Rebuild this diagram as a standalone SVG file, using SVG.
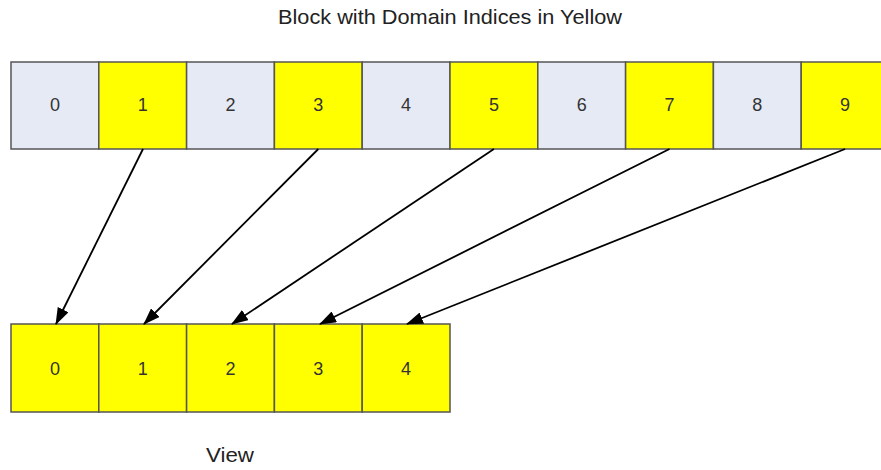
<svg xmlns="http://www.w3.org/2000/svg" width="881" height="470" viewBox="0 0 881 470">
  <style>
    .cell { stroke: #555; stroke-width: 1.5; }
    .gray { fill: #e6eaf5; }
    .yel { fill: #ffff00; }
    .num { font-family: "Liberation Sans", Arial, sans-serif; font-size: 18px; fill: #333; text-anchor: middle; }
    .lbl { font-family: "Liberation Sans", Arial, sans-serif; font-size: 21px; fill: #222; text-anchor: middle; }
    .arrow { stroke: #000; stroke-width: 1.8; fill: none; marker-end: url(#head); }
  </style>
  <defs>
    <marker id="head" viewBox="0 0 17 12" refX="16" refY="6" markerWidth="17" markerHeight="12" markerUnits="userSpaceOnUse" orient="auto">
      <path d="M0,0 L17,6 L0,12 Z" fill="#000"/>
    </marker>
  </defs>
  <rect width="881" height="470" fill="#fff"/>

  <text class="lbl" x="450" y="24" textLength="344" lengthAdjust="spacingAndGlyphs">Block with Domain Indices in Yellow</text>

  <!-- block cells -->
  <g id="b0"><rect class="cell gray" x="11" y="62" width="87.8" height="87"/><text class="num" x="54.9" y="111">0</text></g>
  <g id="b1"><rect class="cell yel" x="98.8" y="62" width="87.8" height="87"/><text class="num" x="142.7" y="111">1</text></g>
  <g id="b2"><rect class="cell gray" x="186.6" y="62" width="87.8" height="87"/><text class="num" x="230.5" y="111">2</text></g>
  <g id="b3"><rect class="cell yel" x="274.4" y="62" width="87.8" height="87"/><text class="num" x="318.3" y="111">3</text></g>
  <g id="b4"><rect class="cell gray" x="362.2" y="62" width="87.8" height="87"/><text class="num" x="406.1" y="111">4</text></g>
  <g id="b5"><rect class="cell yel" x="450" y="62" width="87.8" height="87"/><text class="num" x="493.9" y="111">5</text></g>
  <g id="b6"><rect class="cell gray" x="537.8" y="62" width="87.8" height="87"/><text class="num" x="581.7" y="111">6</text></g>
  <g id="b7"><rect class="cell yel" x="625.6" y="62" width="87.8" height="87"/><text class="num" x="669.5" y="111">7</text></g>
  <g id="b8"><rect class="cell gray" x="713.4" y="62" width="87.8" height="87"/><text class="num" x="757.3" y="111">8</text></g>
  <g id="b9"><rect class="cell yel" x="801.2" y="62" width="87.8" height="87"/><text class="num" x="845.1" y="111">9</text></g>

  <!-- view cells -->
  <g id="v0"><rect class="cell yel" x="11" y="324" width="87.8" height="88"/><text class="num" x="54.9" y="374.5">0</text></g>
  <g id="v1"><rect class="cell yel" x="98.8" y="324" width="87.8" height="88"/><text class="num" x="142.7" y="374.5">1</text></g>
  <g id="v2"><rect class="cell yel" x="186.6" y="324" width="87.8" height="88"/><text class="num" x="230.5" y="374.5">2</text></g>
  <g id="v3"><rect class="cell yel" x="274.4" y="324" width="87.8" height="88"/><text class="num" x="318.3" y="374.5">3</text></g>
  <g id="v4"><rect class="cell yel" x="362.2" y="324" width="87.8" height="88"/><text class="num" x="406.1" y="374.5">4</text></g>

  <text class="lbl" x="230" y="462" textLength="48" lengthAdjust="spacingAndGlyphs">View</text>

  <g id="connectors">
    <line class="arrow" x1="143" y1="149" x2="56" y2="324"/>
    <line class="arrow" x1="318.3" y1="149" x2="144" y2="324"/>
    <line class="arrow" x1="493.9" y1="149" x2="232" y2="324"/>
    <line class="arrow" x1="669.5" y1="149" x2="320" y2="324"/>
    <line class="arrow" x1="845.1" y1="149" x2="407" y2="324"/>
  </g>
</svg>
